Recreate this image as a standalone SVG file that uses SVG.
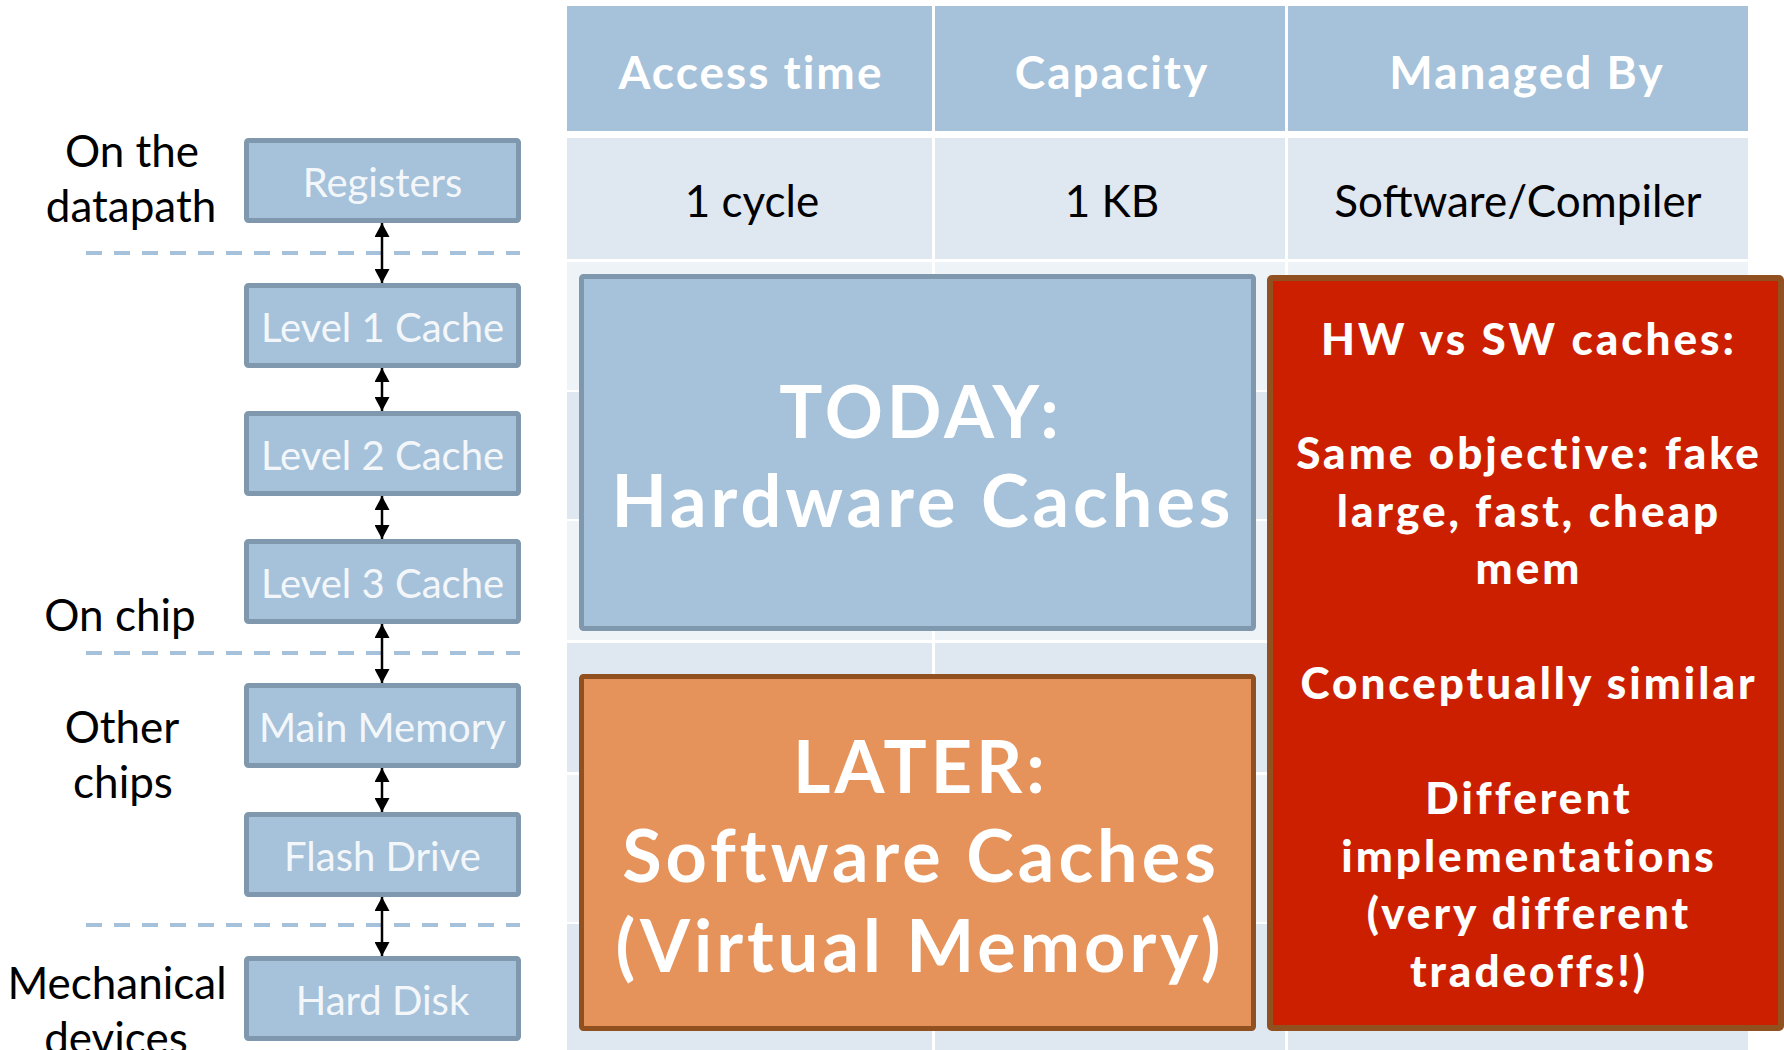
<svg xmlns="http://www.w3.org/2000/svg" width="1784" height="1050" viewBox="0 0 1784 1050">
<style>
  .lbl { font-family: Lato, "Open Sans", "DejaVu Sans", sans-serif; font-size: 44px; fill: #000; text-anchor: middle; }
  .boxt { font-family: Lato, "Open Sans", "DejaVu Sans", sans-serif; font-size: 40px; fill: #f4f7fa; text-anchor: middle; }
  .lvl { fill: #a5c2da; stroke: #7f98ad; stroke-width: 5; }
  .dash { stroke: #a5c2da; stroke-width: 4; stroke-dasharray: 16 12; fill: none; }
  .conn { stroke: #000; stroke-width: 2.5; fill: none; marker-start: url(#ah); marker-end: url(#ah); }
  .hdr { fill: #a5c2da; }
  .rowA { fill: #dfe7f0; }
  .rowB { fill: #eef3f8; }
  .sep { stroke: #ffffff; stroke-width: 3; }
  .th { font-family: Lato, "Open Sans", "DejaVu Sans", sans-serif; font-size: 46px; font-weight: bold; fill: #fff; text-anchor: middle; letter-spacing: 2px; }
  .td { font-family: Lato, "Open Sans", "DejaVu Sans", sans-serif; font-size: 44px; fill: #000; text-anchor: middle; }
  .big { font-family: Lato, "Open Sans", "DejaVu Sans", sans-serif; font-size: 72px; font-weight: bold; fill: #fff; text-anchor: middle; letter-spacing: 4px; }
  .red { font-family: Lato, "Open Sans", "DejaVu Sans", sans-serif; font-size: 44px; font-weight: 900; fill: #fff; text-anchor: middle; letter-spacing: 3px; }
</style>
<defs>
  <marker id="ah" viewBox="0 0 14 15" refX="14" refY="7.5" markerWidth="14" markerHeight="15" markerUnits="userSpaceOnUse" orient="auto-start-reverse">
    <path d="M0,0 L14,7.5 L0,15 z" fill="#000"/>
  </marker>
</defs>
<rect x="0" y="0" width="1784" height="1050" fill="#ffffff"/>

<!-- table background -->
<g id="table">
  <rect class="hdr" x="567" y="6" width="1181" height="125"/>
  <rect class="rowA" x="567" y="138" width="1181" height="121"/>
  <rect class="rowB" x="567" y="262" width="1181" height="128"/>
  <rect class="rowA" x="567" y="392" width="1181" height="127"/>
  <rect class="rowB" x="567" y="521" width="1181" height="119"/>
  <rect class="rowA" x="567" y="643" width="1181" height="129"/>
  <rect class="rowB" x="567" y="775" width="1181" height="147"/>
  <rect class="rowA" x="567" y="924" width="1181" height="126"/>
  <line class="sep" x1="933.5" y1="6" x2="933.5" y2="1050"/>
  <line class="sep" x1="1286.5" y1="6" x2="1286.5" y2="1050"/>
  <text class="th" x="751" y="89">Access time</text>
  <text class="th" x="1112" y="89">Capacity</text>
  <text class="th" x="1527" y="89">Managed By</text>
  <text class="td" x="752" y="217">1 cycle</text>
  <text class="td" x="1112" y="217">1 KB</text>
  <text class="td" x="1518" y="217">Software/Compiler</text>
</g>

<!-- dashed separators -->
<g id="separators">
  <line class="dash" x1="86" y1="253" x2="520" y2="253"/>
  <line class="dash" x1="86" y1="653" x2="520" y2="653"/>
  <line class="dash" x1="86" y1="925" x2="520" y2="925"/>
</g>

<!-- side labels -->
<g id="labels">
  <text class="lbl" x="132" y="167">On the</text>
  <text class="lbl" x="131" y="222">datapath</text>
  <text class="lbl" x="120" y="631">On chip</text>
  <text class="lbl" x="122" y="743">Other</text>
  <text class="lbl" x="123" y="798">chips</text>
  <text class="lbl" x="117" y="999">Mechanical</text>
  <text class="lbl" x="116" y="1054">devices</text>
</g>

<g id="registers"><rect class="lvl" x="246.5" y="140.5" width="272" height="80" rx="2"/><text class="boxt" x="382.5" y="197">Registers</text></g>
<g id="l1"><rect class="lvl" x="246.5" y="285.5" width="272" height="80" rx="2"/><text class="boxt" x="382.5" y="342">Level 1 Cache</text></g>
<g id="l2"><rect class="lvl" x="246.5" y="413.5" width="272" height="80" rx="2"/><text class="boxt" x="382.5" y="470">Level 2 Cache</text></g>
<g id="l3"><rect class="lvl" x="246.5" y="541.5" width="272" height="80" rx="2"/><text class="boxt" x="382.5" y="598">Level 3 Cache</text></g>
<g id="mainmem"><rect class="lvl" x="246.5" y="685.5" width="272" height="80" rx="2"/><text class="boxt" x="382.5" y="742">Main Memory</text></g>
<g id="flash"><rect class="lvl" x="246.5" y="814.5" width="272" height="80" rx="2"/><text class="boxt" x="382.5" y="871">Flash Drive</text></g>
<g id="hdd"><rect class="lvl" x="246.5" y="958.5" width="272" height="80" rx="2"/><text class="boxt" x="382.5" y="1015">Hard Disk</text></g>

<g id="connectors">
  <line class="conn" x1="382" y1="223" x2="382" y2="283"/>
  <line class="conn" x1="382" y1="368" x2="382" y2="411"/>
  <line class="conn" x1="382" y1="496" x2="382" y2="539"/>
  <line class="conn" x1="382" y1="624" x2="382" y2="683"/>
  <line class="conn" x1="382" y1="768" x2="382" y2="812"/>
  <line class="conn" x1="382" y1="897" x2="382" y2="956"/>
</g>

<g id="today">
  <rect x="581.5" y="276.5" width="672" height="352" rx="2" fill="#a5c2da" stroke="#7f98ad" stroke-width="5"/>
  <text class="big" x="921" y="438">TODAY:</text>
  <text class="big" x="923" y="527">Hardware Caches</text>
</g>

<g id="later">
  <rect x="581.5" y="676.5" width="672" height="352" rx="2" fill="#e5935a" stroke="#91501f" stroke-width="5"/>
  <text class="big" x="921" y="793">LATER:</text>
  <text class="big" x="921" y="882">Software Caches</text>
  <text class="big" x="920" y="972">(Virtual Memory)</text>
</g>

<g id="hwsw">
  <rect x="1270" y="278" width="511" height="750" rx="2" fill="#cc1f00" stroke="#91501f" stroke-width="6"/>
  <text class="red" x="1529" y="355">HW vs SW caches:</text>
  <text class="red" x="1529" y="469">Same objective: fake</text>
  <text class="red" x="1529" y="527">large, fast, cheap</text>
  <text class="red" x="1529" y="584">mem</text>
  <text class="red" x="1529" y="699">Conceptually similar</text>
  <text class="red" x="1529" y="814">Different</text>
  <text class="red" x="1529" y="872">implementations</text>
  <text class="red" x="1529" y="929">(very different</text>
  <text class="red" x="1529" y="987">tradeoffs!)</text>
</g>
</svg>
